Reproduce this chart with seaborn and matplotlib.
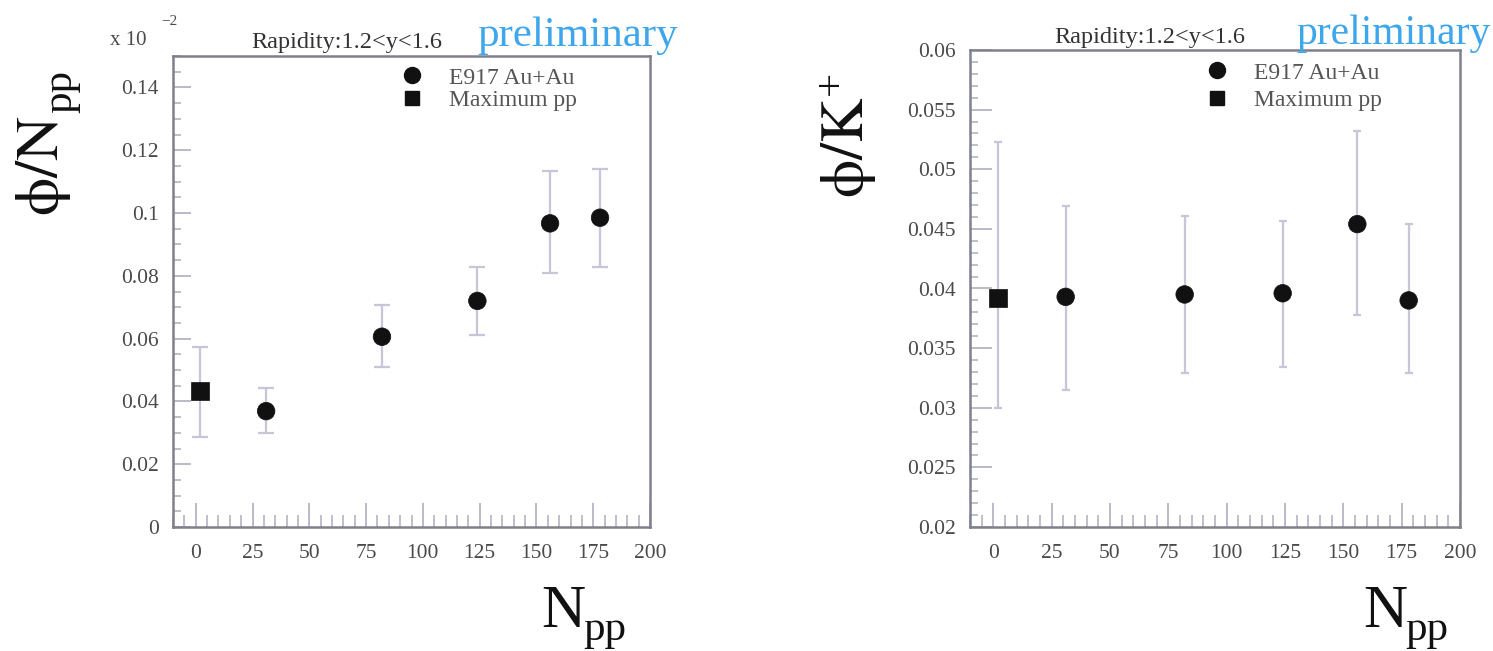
import numpy as np
import pandas as pd
import matplotlib
matplotlib.use("Agg")
import matplotlib.pyplot as plt
from matplotlib.lines import Line2D
from matplotlib.ticker import MultipleLocator, FixedLocator
import seaborn as sns

# ---- data -------------------------------------------------------------
npp_auau = [31, 82, 124, 156, 178]
npp_pp = [2]

# phi / N_pp
phi_npp_auau = [0.0369, 0.0606, 0.0720, 0.0967, 0.0985]
phi_npp_auau_lo = [0.0070, 0.0095, 0.0109, 0.0159, 0.0156]
phi_npp_auau_hi = [0.0074, 0.0101, 0.0109, 0.0168, 0.0154]
phi_npp_pp = [0.0433]
phi_npp_pp_lo = [0.0146]
phi_npp_pp_hi = [0.0141]

# phi / K+
phi_k_auau = [0.0393, 0.0395, 0.0396, 0.0454, 0.0390]
phi_k_auau_lo = [0.0078, 0.0066, 0.0062, 0.0076, 0.0061]
phi_k_auau_hi = [0.0076, 0.0066, 0.0061, 0.0078, 0.0064]
phi_k_pp = [0.0392]
phi_k_pp_lo = [0.0092]
phi_k_pp_hi = [0.0131]

x_ticks = [0, 25, 50, 75, 100, 125, 150, 175, 200]
left_yticks = [0, 0.02, 0.04, 0.06, 0.08, 0.1, 0.12, 0.14]
left_yticklabels = ["0", "0.02", "0.04", "0.06", "0.08", "0.1", "0.12", "0.14"]
right_yticks = [0.02, 0.025, 0.03, 0.035, 0.04, 0.045, 0.05, 0.055, 0.06]
right_yticklabels = ["0.02", "0.025", "0.03", "0.035", "0.04", "0.045", "0.05", "0.055", "0.06"]

label_auau = "E917 Au+Au"
label_pp = "Maximum pp"
rapidity_text = "Rapidity:1.2<y<1.6"
prelim_text = "preliminary"

# ---- style ------------------------------------------------------------
sns.set_theme(style="ticks")
plt.rcParams["font.family"] = ["Liberation Serif", "DejaVu Serif"]
plt.rcParams["mathtext.fontset"] = "stix"

W, H = 1493, 651
fig = plt.figure(figsize=(W / 100, H / 100), dpi=100)
fig.patch.set_facecolor("white")


def fx(px):
    return px / W


def fy(py):
    return 1 - py / H


frame_col = "#80808c"
tick_col = "#b4b4c4"
err_col = "#c6c6d6"
label_col = "#4a4a4a"
prelim_col = "#3ea6ea"
big_col = "#111111"


def make_frame(df, ax, ylim, yticks, yticklabels, ymajor_len, yminor, capsize):
    sub_auau = df[df["sample"] == label_auau]
    sub_pp = df[df["sample"] == label_pp]
    for sub in (sub_auau, sub_pp):
        ax.errorbar(sub["npp"], sub["val"], yerr=[sub["lo"], sub["hi"]],
                    fmt="none", ecolor=err_col, elinewidth=1.6,
                    capsize=capsize, capthick=1.6, zorder=2)
    sns.scatterplot(data=df, x="npp", y="val", style="sample",
                    markers={label_auau: "o", label_pp: "s"},
                    color=big_col, s=160, edgecolor=big_col,
                    linewidth=0.5, legend=False, ax=ax, zorder=3)
    ax.set_xlim(-10, 200)
    ax.set_ylim(*ylim)
    ax.xaxis.set_major_locator(FixedLocator(x_ticks))
    ax.set_xticks(x_ticks)
    ax.set_xticklabels([str(t) for t in x_ticks])
    ax.xaxis.set_minor_locator(MultipleLocator(5))
    ax.set_yticks(yticks)
    ax.set_yticklabels(yticklabels)
    ax.yaxis.set_minor_locator(MultipleLocator(yminor))
    ax.set_xlabel("")
    ax.set_ylabel("")
    for sp in ax.spines.values():
        sp.set_visible(True)
        sp.set_color(frame_col)
        sp.set_linewidth(1.8)
    ax.tick_params(axis="x", which="major", direction="in", length=17,
                   width=1.3, color=tick_col, labelsize=15.5,
                   labelcolor=label_col, pad=12)
    ax.tick_params(axis="x", which="minor", direction="in", length=8.5,
                   width=1.2, color=tick_col)
    ax.tick_params(axis="y", which="major", direction="in", length=ymajor_len,
                   width=1.3, color=tick_col, labelsize=15.5,
                   labelcolor=label_col, pad=10)
    ax.tick_params(axis="y", which="minor", direction="in", length=6,
                   width=1.2, color=tick_col)
    ax.set_facecolor("white")


def build_df(y_auau, lo_auau, hi_auau, y_pp, lo_pp, hi_pp):
    return pd.DataFrame({
        "npp": npp_auau + npp_pp,
        "val": y_auau + y_pp,
        "lo": lo_auau + lo_pp,
        "hi": hi_auau + hi_pp,
        "sample": [label_auau] * len(npp_auau) + [label_pp] * len(npp_pp),
    })


def add_legend(ax, x_marker, y_top, spacing):
    handles = [
        Line2D([], [], marker="o", ls="none", color=big_col, markersize=11.5),
        Line2D([], [], marker="s", ls="none", color=big_col, markersize=10.5),
    ]
    fs = 17
    fs_px = fs * 100 / 72
    leg = ax.legend(handles, [label_auau, label_pp], frameon=False,
                    loc="upper left",
                    bbox_to_anchor=(fx(x_marker - fs_px / 2), fy(y_top)),
                    bbox_transform=fig.transFigure,
                    borderpad=0, borderaxespad=0, handlelength=1.0,
                    handletextpad=1.05, labelspacing=spacing, fontsize=fs)
    for t in leg.get_texts():
        t.set_color("#555555")


def npp_label(x_left, baseline):
    # large N with a dropped "pp" subscript
    fig.text(fx(x_left), fy(baseline), "N", fontsize=44, color=big_col,
             ha="left", va="baseline")
    fig.text(fx(x_left + 42), fy(baseline + 13), "pp", fontsize=31,
             color=big_col, ha="left", va="baseline")


# ---- left panel: phi / N_pp -------------------------------------------
ax1 = fig.add_axes([fx(173), fy(527), fx(650 - 173), (527 - 56) / H])
df1 = build_df(phi_npp_auau, phi_npp_auau_lo, phi_npp_auau_hi,
               phi_npp_pp, phi_npp_pp_lo, phi_npp_pp_hi)
make_frame(df1, ax1, (0, 0.15), left_yticks, left_yticklabels, 13, 0.005, 6)
add_legend(ax1, 412, 67, 0.05)

fig.text(fx(110), fy(45), "x 10", fontsize=15, color=label_col, va="baseline")
fig.text(fx(161), fy(25), "\u22122", fontsize=11, color=label_col, va="baseline")
fig.text(fx(347), fy(48), rapidity_text, fontsize=17.5, color="#333333",
         ha="center", va="baseline")
fig.text(fx(477), fy(46), prelim_text, fontsize=31, color=prelim_col,
         ha="left", va="baseline")
# rotated y title: phi/N with the subscript shifted below its baseline
fig.text(fx(58), fy(216), r"$\mathrm{\phi/N}$", fontsize=44, rotation=90,
         rotation_mode="anchor", ha="left", va="baseline", color=big_col)
fig.text(fx(71), fy(113), "pp", fontsize=31, rotation=90,
         rotation_mode="anchor", ha="left", va="baseline", color=big_col)
npp_label(541, 627)

# ---- right panel: phi / K+ --------------------------------------------
ax2 = fig.add_axes([fx(970), fy(527), fx(1460 - 970), (527 - 50) / H])
df2 = build_df(phi_k_auau, phi_k_auau_lo, phi_k_auau_hi,
               phi_k_pp, phi_k_pp_lo, phi_k_pp_hi)
make_frame(df2, ax2, (0.02, 0.06), right_yticks, right_yticklabels, 16, 0.001, 3)
add_legend(ax2, 1217, 62, 0.25)

fig.text(fx(1150), fy(43), rapidity_text, fontsize=17.5, color="#333333",
         ha="center", va="baseline")
fig.text(fx(1296), fy(44), prelim_text, fontsize=30, color=prelim_col,
         ha="left", va="baseline")
fig.text(fx(863), fy(198), r"$\mathrm{\phi/K}$", fontsize=44, rotation=90,
         rotation_mode="anchor", ha="left", va="baseline", color=big_col)
fig.text(fx(842), fy(95), "+", fontsize=31, rotation=90,
         rotation_mode="anchor", ha="left", va="baseline", color=big_col)
npp_label(1363, 627)

fig.savefig("out.png", dpi=100, facecolor="white")
